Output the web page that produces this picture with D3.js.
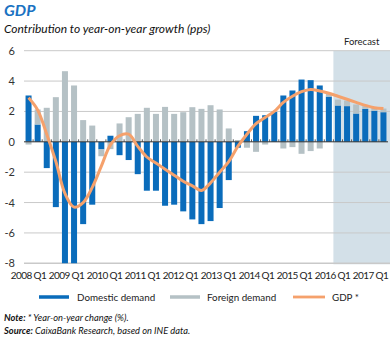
<!DOCTYPE html>
<html><head><meta charset="utf-8">
<script src="https://cdn.jsdelivr.net/npm/d3@7"></script>
<style>
html,body{margin:0;padding:0;background:#fff;}
text{font-family:Lato,"Open Sans",sans-serif;}
</style></head>
<body>
<svg id="c" width="392" height="338"></svg>
<script>
const years = [2008,2009,2010,2011,2012,2013,2014,2015,2016,2017];
const quarters = years.flatMap(y => ["Q1","Q2","Q3","Q4"].map(q => y + " " + q));
const domestic = [3.05,1.14,-1.73,-4.3,-8.1,-8.05,-5.42,-4.14,-0.5,0.4,
  -0.88,-1.2,-2.13,-3.22,-3.22,-4.21,-4.14,-4.58,-5.11,-5.42,
  -5.22,-4.36,-2.52,-0.39,0.7,1.71,1.75,1.97,3.05,3.38,
  4.1,4.06,3.71,2.98,2.39,2.35,1.86,2.17,2.04,1.95];
const foreign = [-0.18,0.99,2.24,2.94,4.65,3.71,1.43,1.07,-0.45,-0.48,
  1.21,1.62,1.84,2.24,1.84,2.3,1.84,1.95,2.28,2.17,
  2.41,2.13,0.88,0.12,-0.39,-0.66,-0.18,0.05,-0.44,-0.35,
  -0.79,-0.61,-0.44,0.2,0.39,0.37,0.6,0.18,0.2,0.24];
const gdp = [2.9,2.1,0.5,-1.3,-3.4,-4.3,-4.0,-3.0,-1.6,-0.2,
  0.4,0.5,-0.3,-1.0,-1.4,-1.8,-2.2,-2.6,-2.9,-3.2,
  -2.7,-2.0,-1.3,-0.3,0.5,1.2,1.6,2.0,2.6,3.0,
  3.3,3.45,3.35,3.2,3.0,2.8,2.6,2.4,2.25,2.2];
const yTicks = [-8,-6,-4,-2,0,2,4,6];
const xTickLabels = ["2008 Q1","2009 Q1","2010 Q1","2011 Q1","2012 Q1","2013 Q1","2014 Q1","2015 Q1","2016 Q1","2017 Q1"];
const forecastStart = "2016 Q3";
const seriesNames = ["Domestic demand","Foreign demand","GDP *"];

const colors = {domestic:"#0a6cbb", foreign:"#b5c1c5", gdp:"#f5a16c", shade:"#d3e0e8", grid:"#c9c9c9"};

const svg = d3.select("#c");
const L = 24, R = 388, T = 50.7, B = 263.3;

const x = d3.scaleBand().domain(quarters).range([L, R]).paddingInner(0.34).paddingOuter(0.17);
const y = d3.scaleLinear().domain([-8, 6]).range([B, T]);
const xl = d3.scalePoint().domain(xTickLabels).range([28.5, 370.5]);

// forecast shade
const fx = x(forecastStart) - x.step()*x.paddingInner()/2;
svg.append("rect").attr("x", fx).attr("y", T).attr("width", 390 - fx).attr("height", B - T + 1).attr("fill", colors.shade);
svg.append("text").attr("x", (fx + 390)/2).attr("y", 45).attr("text-anchor","middle")
  .attr("font-size", 9.5).attr("fill","#222").text("Forecast");

// grid
svg.append("g").selectAll("line").data(yTicks.filter(d => d !== 0)).join("line")
  .attr("x1", L).attr("x2", 390).attr("y1", d => y(d)).attr("y2", d => y(d))
  .attr("stroke", colors.grid).attr("stroke-width", d => d === -8 ? 1.6 : 1);

// y labels
svg.append("g").selectAll("text").data(yTicks).join("text")
  .attr("x", 15).attr("y", d => y(d) + 4).attr("text-anchor","end")
  .attr("font-size", 11).attr("fill","#333").text(d => d);

// clip
svg.append("clipPath").attr("id","pc").append("rect").attr("x", 0).attr("y", T - 5).attr("width", 392).attr("height", B - T + 5);

// stacked bars
const rows = quarters.map((q, i) => ({q, domestic: domestic[i], foreign: foreign[i]}));
const stack = d3.stack().keys(["domestic","foreign"]).offset(d3.stackOffsetDiverging)(rows);
const gb = svg.append("g").attr("clip-path","url(#pc)");
stack.forEach(s => {
  gb.append("g").attr("fill", colors[s.key]).selectAll("rect").data(s).join("rect")
    .attr("x", d => x(d.data.q)).attr("width", x.bandwidth())
    .attr("y", d => y(Math.max(d[0], d[1])))
    .attr("height", d => Math.abs(y(d[0]) - y(d[1])));
});

// zero line and ticks
svg.append("line").attr("x1", L).attr("x2", R).attr("y1", y(0)).attr("y2", y(0)).attr("stroke","#333").attr("stroke-width",1);
svg.append("g").selectAll("line").data(quarters.slice(1)).join("line")
  .attr("x1", d => x(d) - x.step()*x.paddingInner()/2).attr("x2", d => x(d) - x.step()*x.paddingInner()/2)
  .attr("y1", y(0) - 2.5).attr("y2", y(0)).attr("stroke","#333").attr("stroke-width",0.8);

// GDP line
const line = d3.line().x((d, i) => x(quarters[i]) + x.bandwidth()/2).y(d => y(d)).curve(d3.curveCatmullRom.alpha(0.5));
svg.append("path").datum(gdp).attr("d", line).attr("fill","none").attr("stroke", colors.gdp).attr("stroke-width", 3).attr("stroke-linejoin","round");

// x labels
svg.append("g").selectAll("text").data(xTickLabels).join("text")
  .attr("x", d => xl(d)).attr("y", 279).attr("text-anchor","middle")
  .attr("font-size", 10).attr("letter-spacing", -0.6).attr("fill","#222").text(d => d);

// title
svg.append("text").attr("x", 4).attr("y", 16).attr("font-size", 16).attr("font-weight","bold").attr("font-style","italic").attr("fill","#1a72c2").text("GDP");
svg.append("text").attr("x", 4).attr("y", 33).attr("font-size", 12).attr("font-style","italic").attr("fill","#111").text("Contribution to year-on-year growth (pps)");

// legend
const lg = svg.append("g");
const legendItems = [
  {name: seriesNames[0], c: colors.domestic, x: 39, w: 30, h: 3.5, tx: 77},
  {name: seriesNames[1], c: colors.foreign, x: 170, w: 30, h: 3.5, tx: 207},
  {name: seriesNames[2], c: colors.gdp, x: 293, w: 32, h: 2.8, tx: 332}
];
legendItems.forEach(it => {
  lg.append("rect").attr("x", it.x).attr("y", 297 - it.h/2).attr("width", it.w).attr("height", it.h).attr("fill", it.c);
  lg.append("text").attr("x", it.tx).attr("y", 300.5).attr("font-size", 9.8).attr("fill","#222").text(it.name);
});

// notes
const n1 = svg.append("text").attr("x", 4).attr("y", 321).attr("font-size", 9.3).attr("font-style","italic").attr("fill","#111");
n1.append("tspan").attr("font-weight","bold").text("Note:");
n1.append("tspan").text(" * Year-on-year change (%).");
const n2 = svg.append("text").attr("x", 4).attr("y", 333.5).attr("font-size", 9.3).attr("font-style","italic").attr("fill","#111");
n2.append("tspan").attr("font-weight","bold").text("Source:");
n2.append("tspan").text(" CaixaBank Research, based on INE data.");
</script>
</body></html>
